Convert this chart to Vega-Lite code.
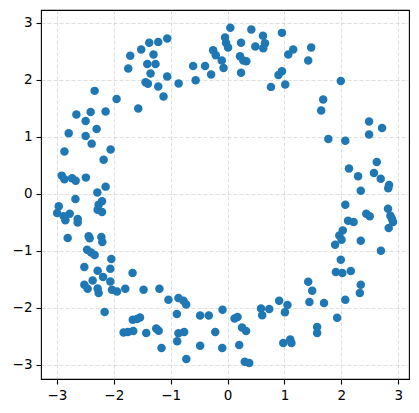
{
  "$schema": "https://vega.github.io/schema/vega-lite/v6.json",
  "autosize": {"type": "none"},
  "padding": {"left": 41, "top": 10, "right": 10, "bottom": 34},
  "width": 368,
  "height": 369,
  "background": "white",
  "config": {
    "view": {"stroke": "black", "strokeWidth": 1.1},
    "axis": {
      "domain": false,
      "grid": true,
      "gridColor": "#b0b0b0",
      "gridOpacity": 0.5,
      "gridDash": [4, 2],
      "gridWidth": 0.8,
      "ticks": true,
      "tickColor": "black",
      "tickSize": 5,
      "tickWidth": 1.1,
      "labelFont": "DejaVu Sans",
      "labelFontSize": 13.5,
      "labelColor": "black",
      "labelPadding": 4,
      "title": null
    }
  },
  "data": {"values": [
    {"x": -2.337, "y": 1.802}, {"x": -1.951, "y": 1.661}, {"x": -2.658, "y": 1.386}, {"x": -2.407, "y": 1.433},
    {"x": -2.144, "y": 1.439}, {"x": -2.495, "y": 1.275}, {"x": -2.793, "y": 1.058}, {"x": -2.302, "y": 1.135},
    {"x": -2.495, "y": 1.012}, {"x": -2.389, "y": 0.877}, {"x": -2.868, "y": 0.737}, {"x": -2.056, "y": 0.772},
    {"x": -2.179, "y": 0.596}, {"x": -2.916, "y": 0.316}, {"x": -2.868, "y": 0.251}, {"x": -2.733, "y": 0.268},
    {"x": -2.670, "y": 0.228}, {"x": -2.491, "y": 0.281}, {"x": -2.289, "y": 0.018}, {"x": -2.144, "y": 0.123},
    {"x": -1.570, "y": 1.491}, {"x": -1.746, "y": 2.193}, {"x": -1.711, "y": 2.416}, {"x": -1.518, "y": 2.526},
    {"x": -1.377, "y": 2.644}, {"x": -1.219, "y": 2.661}, {"x": -1.061, "y": 2.719}, {"x": -1.302, "y": 2.439},
    {"x": -1.412, "y": 2.275}, {"x": -1.267, "y": 2.275}, {"x": -1.354, "y": 2.105}, {"x": -1.442, "y": 1.953},
    {"x": -1.400, "y": 1.925}, {"x": -1.219, "y": 1.877}, {"x": -1.126, "y": 1.702}, {"x": -1.061, "y": 2.053},
    {"x": -0.860, "y": 1.930}, {"x": -0.605, "y": 2.240}, {"x": -0.561, "y": 1.988}, {"x": -0.395, "y": 2.240},
    {"x": -0.289, "y": 2.088}, {"x": -0.254, "y": 2.514}, {"x": -0.207, "y": 2.426}, {"x": -0.102, "y": 2.333},
    {"x": -0.070, "y": 2.205}, {"x": -0.044, "y": 2.737}, {"x": -0.026, "y": 2.640}, {"x": 0.009, "y": 2.561},
    {"x": 0.049, "y": 2.907}, {"x": 0.237, "y": 2.644}, {"x": 0.418, "y": 2.877}, {"x": 0.623, "y": 2.767},
    {"x": 0.658, "y": 2.637}, {"x": 0.488, "y": 2.579}, {"x": 0.628, "y": 2.549}, {"x": 0.956, "y": 2.819},
    {"x": 0.219, "y": 2.409}, {"x": 0.277, "y": 2.333}, {"x": 0.330, "y": 2.321}, {"x": 0.237, "y": 2.118},
    {"x": 1.154, "y": 2.526}, {"x": 1.067, "y": 2.439}, {"x": 1.470, "y": 2.561}, {"x": 1.418, "y": 2.333},
    {"x": 0.956, "y": 2.146}, {"x": 0.895, "y": 2.079}, {"x": 0.763, "y": 1.872}, {"x": 1.014, "y": 1.912},
    {"x": 1.681, "y": 1.649}, {"x": 1.646, "y": 1.456}, {"x": 1.991, "y": 1.974}, {"x": 2.488, "y": 1.263},
    {"x": 2.716, "y": 1.153}, {"x": 2.488, "y": 1.035}, {"x": 1.772, "y": 0.960}, {"x": 2.070, "y": 0.926},
    {"x": 2.623, "y": 0.556}, {"x": 2.135, "y": 0.439}, {"x": 2.295, "y": 0.307}, {"x": 2.574, "y": 0.363},
    {"x": 2.693, "y": 0.260}, {"x": 2.839, "y": 0.153}, {"x": 2.825, "y": 0.093}, {"x": 2.342, "y": 0.049},
    {"x": 2.070, "y": -0.193}, {"x": 2.439, "y": -0.351}, {"x": 2.500, "y": -0.398}, {"x": 2.821, "y": -0.263},
    {"x": 2.863, "y": -0.386}, {"x": 2.891, "y": -0.444}, {"x": 2.909, "y": -0.496}, {"x": 2.833, "y": -0.602},
    {"x": 2.119, "y": -0.474}, {"x": 2.216, "y": -0.496}, {"x": 2.026, "y": -0.644}, {"x": 1.965, "y": -0.733},
    {"x": 2.004, "y": -0.807}, {"x": 1.891, "y": -0.895}, {"x": 2.342, "y": -0.825}, {"x": 2.696, "y": -1.000},
    {"x": 1.991, "y": -1.158}, {"x": 1.904, "y": -1.374}, {"x": 2.018, "y": -1.391}, {"x": 2.167, "y": -1.356},
    {"x": 2.342, "y": -1.596}, {"x": 2.325, "y": -1.742}, {"x": 2.070, "y": -1.860}, {"x": 1.418, "y": -1.544},
    {"x": 1.488, "y": -1.702}, {"x": 1.439, "y": -1.900}, {"x": 1.696, "y": -1.918}, {"x": 1.926, "y": -2.175},
    {"x": 0.907, "y": -1.877}, {"x": 1.053, "y": -1.951}, {"x": 1.009, "y": -2.079}, {"x": 0.588, "y": -2.014},
    {"x": 0.733, "y": -2.021}, {"x": 0.609, "y": -2.132}, {"x": -0.088, "y": -2.035}, {"x": 0.123, "y": -2.189},
    {"x": 0.175, "y": -2.163}, {"x": 0.254, "y": -2.346}, {"x": 0.325, "y": -2.407}, {"x": 0.205, "y": -2.653},
    {"x": -0.093, "y": -2.705}, {"x": 0.302, "y": -2.947}, {"x": 0.381, "y": -2.970}, {"x": 0.979, "y": -2.619},
    {"x": 1.102, "y": -2.556}, {"x": 1.123, "y": -2.619}, {"x": 1.575, "y": -2.339}, {"x": 1.575, "y": -2.444},
    {"x": -0.216, "y": -2.426}, {"x": -0.482, "y": -2.135}, {"x": -0.330, "y": -2.135}, {"x": -0.482, "y": -2.667},
    {"x": -0.725, "y": -2.900}, {"x": -0.891, "y": -2.111}, {"x": -0.863, "y": -1.830}, {"x": -0.775, "y": -1.877},
    {"x": -0.728, "y": -1.942}, {"x": -1.039, "y": -1.860}, {"x": -1.198, "y": -1.667}, {"x": -1.477, "y": -1.684},
    {"x": -1.667, "y": -2.211}, {"x": -1.593, "y": -2.198}, {"x": -1.539, "y": -2.170}, {"x": -1.828, "y": -2.433},
    {"x": -1.751, "y": -2.426}, {"x": -1.658, "y": -2.407}, {"x": -1.430, "y": -2.444}, {"x": -1.254, "y": -2.365},
    {"x": -1.211, "y": -2.404}, {"x": -1.161, "y": -2.705}, {"x": -0.863, "y": -2.447}, {"x": -0.763, "y": -2.426},
    {"x": -0.886, "y": -2.588}, {"x": -2.675, "y": -0.093}, {"x": -2.968, "y": -0.223}, {"x": -2.996, "y": -0.339},
    {"x": -2.881, "y": -0.398}, {"x": -2.851, "y": -0.468}, {"x": -2.775, "y": -0.351}, {"x": -2.635, "y": -0.444},
    {"x": -2.635, "y": -0.504}, {"x": -2.207, "y": -0.135}, {"x": -2.267, "y": -0.193}, {"x": -2.284, "y": -0.281},
    {"x": -2.207, "y": -0.321}, {"x": -2.811, "y": -0.777}, {"x": -2.442, "y": -0.749}, {"x": -2.425, "y": -0.784},
    {"x": -2.219, "y": -0.760}, {"x": -2.202, "y": -0.847}, {"x": -2.470, "y": -0.982}, {"x": -2.400, "y": -1.030},
    {"x": -2.337, "y": -1.075}, {"x": -2.044, "y": -1.146}, {"x": -2.518, "y": -1.286}, {"x": -2.284, "y": -1.351},
    {"x": -2.189, "y": -1.461}, {"x": -2.061, "y": -1.316}, {"x": -2.372, "y": -1.521}, {"x": -2.061, "y": -1.539},
    {"x": -2.518, "y": -1.596}, {"x": -2.460, "y": -1.667}, {"x": -2.284, "y": -1.661}, {"x": -2.267, "y": -1.742},
    {"x": -2.032, "y": -1.684}, {"x": -1.944, "y": -1.714}, {"x": -1.798, "y": -1.667}, {"x": -1.670, "y": -1.391},
    {"x": -2.161, "y": -2.075}
  ]},
  "mark": {"type": "point", "filled": true, "shape": "circle", "size": 72, "color": "#1f77b4", "opacity": 1},
  "encoding": {
    "x": {
      "field": "x", "type": "quantitative",
      "scale": {"domain": [-3.28, 3.19], "nice": false, "zero": false},
      "axis": {"values": [-3, -2, -1, 0, 1, 2, 3], "format": "d"}
    },
    "y": {
      "field": "y", "type": "quantitative",
      "scale": {"domain": [-3.25, 3.22], "nice": false, "zero": false},
      "axis": {"values": [-3, -2, -1, 0, 1, 2, 3], "format": "d"}
    }
  }
}
